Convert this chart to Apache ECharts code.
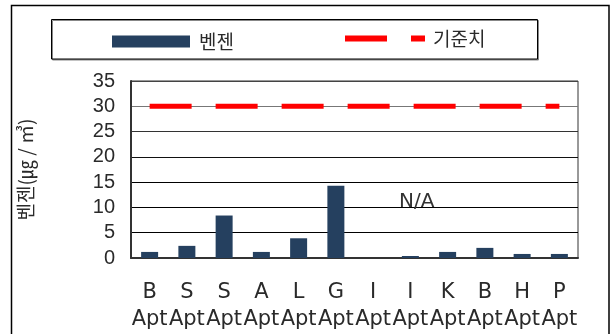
<!DOCTYPE html>
<html>
<head>
<meta charset="utf-8">
<script src="https://cdn.jsdelivr.net/npm/echarts@6/dist/echarts.min.js"></script>
<style>
  html, body { margin: 0; padding: 0; background: #fff; }
  #chart { width: 614px; height: 334px; }
</style>
</head>
<body>
<div id="chart"></div>
<script>
// Apartment sites (first letter) and measured benzene levels (㎍/㎥)
const sites = ['B', 'S', 'S', 'A', 'L', 'G', 'I', 'I', 'K', 'B', 'H', 'P'];
const benzene = [1.2, 2.4, 8.4, 1.2, 3.9, 14.3, null, 0.4, 1.2, 2.0, 0.8, 0.8];
const standard = [30, 30, 30, 30, 30, 30, 30, 30, 30, 30, 30, 30];
const yTicks = { min: 0, max: 35, step: 5 };
const naLabel = 'N/A';

const navy = '#25405f';
const red = '#ff0000';
const ink = '#2a2a2a';
const kr = '"Noto Sans CJK KR", "Noto Sans", sans-serif';

const chart = echarts.init(document.getElementById('chart'), null, { renderer: 'canvas' });

chart.setOption({
  animation: false,
  backgroundColor: '#fff',
  grid: {
    left: 131, top: 81, width: 447, height: 177,
    show: true, borderColor: '#333', borderWidth: 1
  },
  legend: [
    {
      data: [{ name: '벤젠', icon: 'rect' }],
      left: 107, top: 27,
      itemWidth: 78, itemHeight: 12,
      textStyle: { fontFamily: kr, fontSize: 19, color: ink, padding: [0, 0, 0, 4] }
    },
    {
      data: [{
        name: '기준치',
        icon: 'path://M0 0H42V6H0Z M66 0H80V6H66Z'
      }],
      left: 340, top: 24,
      itemWidth: 80, itemHeight: 6,
      textStyle: { fontFamily: kr, fontSize: 19, color: ink, padding: [4, 0, 0, 3] }
    }
  ],
  xAxis: {
    type: 'category',
    data: sites,
    axisTick: { show: false },
    axisLine: { lineStyle: { color: '#333', width: 2 } },
    axisLabel: {
      interval: 0,
      margin: 21,
      fontFamily: '"DejaVu Sans", sans-serif',
      fontSize: 21,
      lineHeight: 27,
      color: ink,
      formatter: (v) => v + '\nApt'
    }
  },
  yAxis: {
    type: 'value',
    min: yTicks.min, max: yTicks.max, interval: yTicks.step,
    name: '벤젠(㎍ / ㎥)',
    nameLocation: 'middle',
    nameRotate: 90,
    nameGap: 96,
    nameTextStyle: { fontFamily: kr, fontSize: 19, color: ink },
    axisLine: { show: true, lineStyle: { color: '#333', width: 2 } },
    axisTick: { show: false },
    axisLabel: {
      margin: 16,
      fontFamily: '"Liberation Sans", Arial, sans-serif',
      fontSize: 20,
      color: ink
    },
    splitLine: {
      lineStyle: {
        width: 1,
        color: ['#000', '#000', '#000', '#000', '#111', '#333', '#777', '#444']
      }
    }
  },
  series: [
    {
      name: '벤젠',
      type: 'bar',
      data: benzene,
      barWidth: 17,
      itemStyle: { color: navy },
      z: 2
    },
    {
      name: '기준치',
      type: 'line',
      data: standard,
      symbol: 'none',
      itemStyle: { color: red },
      lineStyle: { color: red, width: 5, type: [42, 24] },
      z: 3
    }
  ],
  graphic: [
    // outer frame
    {
      type: 'rect',
      shape: { x: 11.5, y: 5.5, width: 597.5, height: 340 },
      style: { fill: 'none', stroke: '#000', lineWidth: 1.5 },
      silent: true, z: -1
    },
    // legend box
    {
      type: 'rect',
      shape: { x: 51.5, y: 19.5, width: 486, height: 39.5 },
      style: {
        fill: '#fff', stroke: '#000', lineWidth: 1,
        shadowColor: '#888', shadowOffsetX: 1, shadowOffsetY: 1
      },
      silent: true, z: -1
    },
    // note for the site without a measurement
    {
      type: 'text',
      left: 399, top: 192,
      style: {
        text: naLabel,
        fontFamily: '"DejaVu Sans", sans-serif',
        fontSize: 20,
        fill: '#333'
      },
      z: 10
    }
  ]
});
</script>
</body>
</html>
